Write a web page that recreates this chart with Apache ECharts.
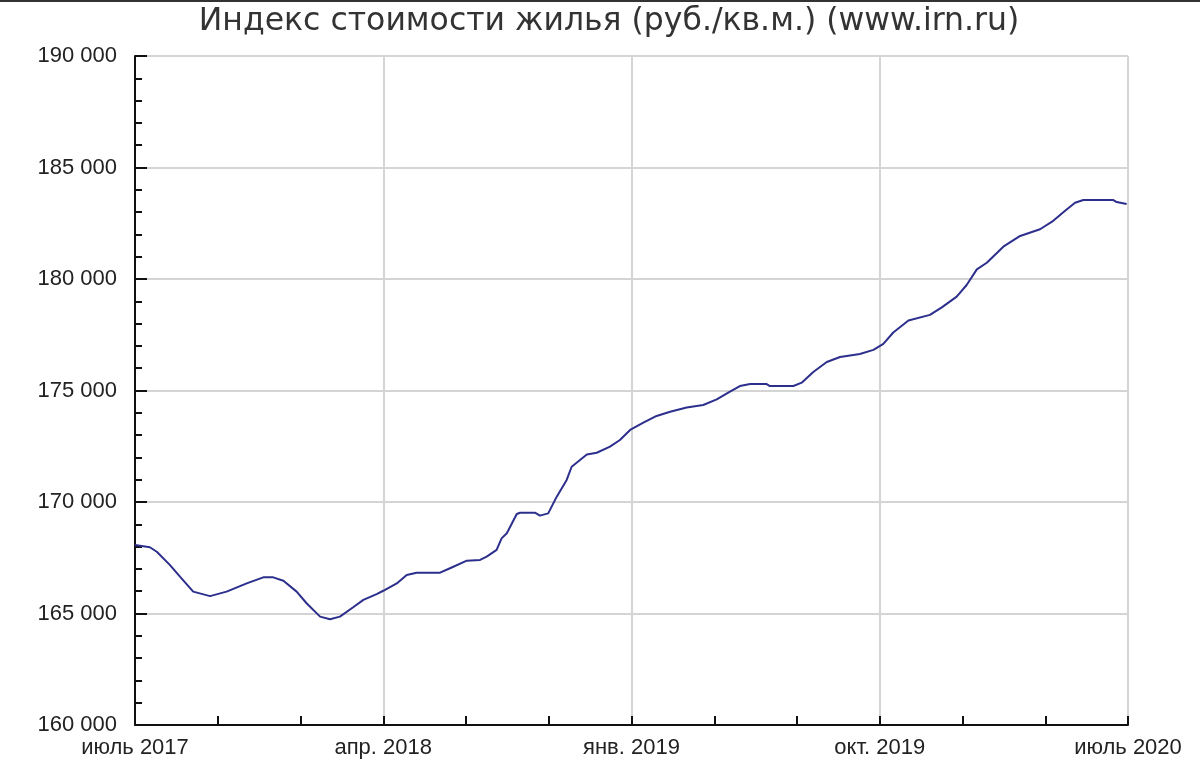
<!DOCTYPE html>
<html>
<head>
<meta charset="utf-8">
<script src="https://cdn.jsdelivr.net/npm/echarts@6/dist/echarts.min.js"></script>
<style>
html,body{margin:0;padding:0;background:#fff;}
#chart{width:1200px;height:762px;}
</style>
</head>
<body>
<div id="chart"></div>
<script>
// Months since July 2017 (x position of each reading)
var months = [0, 0.54, 0.79, 1.27, 1.63, 2.11, 2.72, 3.32, 4.05, 4.65, 5.01, 5.38, 5.86, 6.22, 6.71, 7.07, 7.43, 7.91, 8.28, 8.76, 9.0,
  9.49, 9.85, 10.21, 11.06, 11.42, 12.03, 12.51, 12.75, 13.11, 13.29, 13.48, 13.84, 13.96, 14.5, 14.68, 14.98, 15.29, 15.65, 15.83, 16.01,
  16.38, 16.74, 17.22, 17.58, 17.95, 18.43, 18.91, 19.4, 20.0, 20.6, 21.09, 21.57, 21.93, 22.3, 22.9, 23.02, 23.87, 24.17, 24.59, 25.08,
  25.56, 26.28, 26.77, 27.13, 27.49, 28.04, 28.82, 29.25, 29.79, 30.15, 30.52, 30.88, 31.48, 32.09, 32.81, 33.29, 33.72, 34.08, 34.38,
  35.47, 35.59, 35.95];
// Index value, rub per sq.m.
var values = [168070, 167970, 167770, 167170, 166650, 165980, 165780, 165980, 166350, 166620, 166620, 166470, 165980, 165460, 164860, 164740, 164860, 165280, 165610, 165870, 166020,
  166350, 166730, 166830, 166830, 167030, 167370, 167400, 167550, 167850, 168370, 168600, 169460, 169520, 169520, 169390, 169490, 170240, 170990, 171580, 171760,
  172130, 172210, 172480, 172780, 173230, 173560, 173860, 174050, 174240, 174350, 174600, 174950, 175200, 175290, 175290, 175200, 175200, 175350, 175830, 176280,
  176500, 176640, 176820, 177090, 177600, 178140, 178390, 178730, 179210, 179730, 180430, 180730, 181450, 181930, 182230, 182610, 183060, 183420, 183540,
  183540, 183450, 183360];
var tickMonths = [0, 9, 18, 27, 36];
var tickLabels = ['июль 2017', 'апр. 2018', 'янв. 2019', 'окт. 2019', 'июль 2020'];
var titleText = 'Индекс стоимости жилья (руб./кв.м.) (www.irn.ru)';

var data = months.map(function (m, i) { return [m, values[i]]; });

var chart = echarts.init(document.getElementById('chart'));
chart.setOption({
  animation: false,
  backgroundColor: '#fff',
  title: {
    text: titleText,
    left: 604,
    textAlign: 'center',
    top: 1,
    textStyle: { fontFamily: 'DejaVu Sans', fontSize: 31.5, fontWeight: 'normal', color: '#333' }
  },
  graphic: [{
    type: 'rect', shape: { x: 0, y: 0, width: 1200, height: 2 }, style: { fill: '#333' }, silent: true
  }],
  grid: { left: 135, right: 72, top: 56, bottom: 37, containLabel: false },
  xAxis: {
    type: 'value', min: 0, max: 36, interval: 9,
    axisLine: { lineStyle: { color: '#111', width: 2 } },
    axisTick: { inside: true, length: 9, lineStyle: { color: '#111', width: 2 } },
    minorTick: { show: true, splitNumber: 3, length: 9, lineStyle: { color: '#111', width: 2 } },
    splitLine: { show: true, lineStyle: { color: '#d4d4d4', width: 2 } },
    axisLabel: {
      margin: 12, fontFamily: 'Liberation Sans', fontSize: 22, color: '#222',
      formatter: function (v) { var i = tickMonths.indexOf(v); return i >= 0 ? tickLabels[i] : ''; }
    }
  },
  yAxis: {
    type: 'value', min: 160000, max: 190000, interval: 5000,
    axisLine: { show: true, lineStyle: { color: '#111', width: 2 } },
    axisTick: { show: true, inside: true, length: 12, lineStyle: { color: '#111', width: 2 } },
    minorTick: { show: true, splitNumber: 5, length: 7, lineStyle: { color: '#111', width: 2 } },
    splitLine: { show: true, lineStyle: { color: '#d4d4d4', width: 2 } },
    axisLabel: {
      margin: 18, fontFamily: 'Liberation Sans', fontSize: 22, color: '#222',
      formatter: function (v) { return String(v).replace(/\B(?=(\d{3})+(?!\d))/g, ' '); }
    }
  },
  series: [{
    type: 'line', data: data, showSymbol: false, smooth: false,
    lineStyle: { color: '#2c2f8c', width: 2 }
  }]
});
</script>
</body>
</html>
